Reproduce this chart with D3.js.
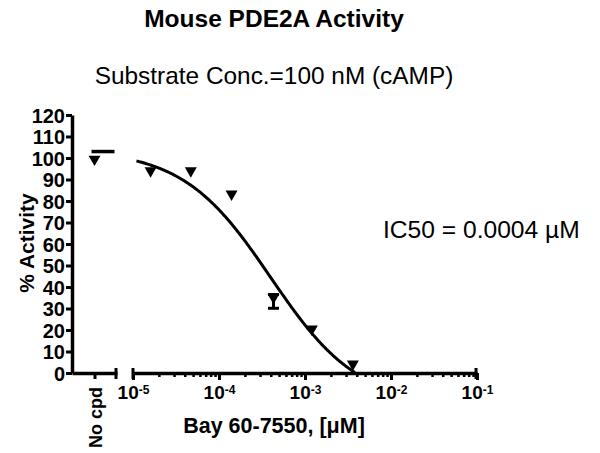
<!DOCTYPE html>
<html>
<head>
<meta charset="utf-8">
<script src="https://cdn.jsdelivr.net/npm/d3@7"></script>
<style>
  body { margin: 0; background: #fff; }
  text { font-family: Arial, 'Liberation Sans', sans-serif; fill: #000; }
</style>
</head>
<body>
<div class="chart"></div>
<script>
// data
const conc = [1.6e-5, 4.7e-5, 1.4e-4, 4.3e-4, 1.2e-3, 3.6e-3]; // uM
const activity = [93.6, 93.6, 82.8, 34.7, 20, 3.7];
const errLow = [null, null, null, 30.1, null, null];
const errHigh = [null, null, null, 36.5, null, null];
const noCpdLabel = ['No cpd'];
const noCpdValue = [99];
const noCpdHigh = [103];
const yTicks = [0, 10, 20, 30, 40, 50, 60, 70, 80, 90, 100, 110, 120];
const xMajor = [1e-5, 1e-4, 1e-3, 1e-2, 1e-1];
const xExp = ['-5', '-4', '-3', '-2', '-1'];
// 4PL fit
const fitTop = 104, fitBottom = -15, logIC50 = -3.4, hill = 0.85;

const W = 600, H = 453;
const FONT = "Arial, 'Liberation Sans', sans-serif";
const svg = d3.select('.chart')
  .append('svg')
    .attr('width', W)
    .attr('height', H);

const y = d3.scaleLinear().domain([0, 120]).range([373, 115]);
const x = d3.scaleLog().domain([1e-5, 1e-1]).range([133, 477]);
const xc = d3.scalePoint().domain(noCpdLabel).range([72, 117]).padding(0.5);

// y axis
const yAxis = svg.append('g')
  .attr('transform', 'translate(72,0)')
  .call(d3.axisLeft(y).tickValues(yTicks).tickSize(6).tickSizeOuter(0).tickPadding(1));
yAxis.select('.domain').attr('stroke-width', 3.5);
yAxis.selectAll('.tick line').attr('stroke-width', 3);
yAxis.selectAll('.tick text')
  .attr('dy', '0.36em')
  .style('font-size', '20px').style('font-weight', 'bold')
  .style('font-family', FONT);

// no cpd axis piece
const xcAxis = svg.append('g')
  .attr('transform', 'translate(0,373)')
  .call(d3.axisBottom(xc).tickSize(6).tickSizeOuter(0).tickFormat(''));
xcAxis.select('.domain').attr('stroke-width', 3.5);
xcAxis.selectAll('.tick line').attr('stroke-width', 3);
svg.append('line')
  .attr('x1', 116).attr('x2', 116).attr('y1', 368).attr('y2', 379)
  .attr('stroke', '#000').attr('stroke-width', 3);
svg.append('text')
  .attr('transform', `translate(${xc('No cpd') + 7},387) rotate(-90)`)
  .attr('text-anchor', 'end')
  .style('font-size', '18px').style('font-weight', 'bold')
  .text('No cpd');

// log axis: minor then major
const xMinor = svg.append('g')
  .attr('transform', 'translate(0,373)')
  .call(d3.axisBottom(x).tickValues(x.ticks()).tickSize(4).tickSizeOuter(0).tickFormat(''));
xMinor.select('.domain').attr('stroke-width', 3.5);
xMinor.selectAll('.tick line').attr('stroke-width', 2.5);

const xAxis = svg.append('g')
  .attr('transform', 'translate(0,373)')
  .call(d3.axisBottom(x).tickValues(xMajor).tickSize(7).tickSizeOuter(0).tickPadding(6));
xAxis.select('.domain').remove();
xAxis.selectAll('.tick line').attr('stroke-width', 3);
xAxis.selectAll('.tick text')
  .style('font-size', '19px').style('font-weight', 'bold')
  .style('font-family', FONT)
  .text(null)
  .each(function(d, i) {
    const t = d3.select(this);
    t.append('tspan').text('10');
    t.append('tspan').attr('dy', '-0.45em').style('font-size', '12px').text(xExp[i]);
  });
[133, 476].forEach(px => {
  svg.append('line')
    .attr('x1', px).attr('x2', px).attr('y1', 368).attr('y2', 379)
    .attr('stroke', '#000').attr('stroke-width', 3);
});

// fit curve
const fit = lx => fitBottom + (fitTop - fitBottom) / (1 + Math.pow(10, (lx - logIC50) * hill));
const curve = d3.range(-4.96, -2.3, 0.01)
  .map(lx => [Math.pow(10, lx), fit(lx)])
  .filter(d => d[1] >= 0);
svg.append('path')
  .datum(curve)
  .attr('fill', 'none')
  .attr('stroke', '#000')
  .attr('stroke-width', 3)
  .attr('d', d3.line().x(d => x(d[0])).y(d => y(d[1])));

// error bars
conc.forEach((c, i) => {
  if (errLow[i] == null) return;
  const cx = x(c);
  svg.append('line').attr('x1', cx).attr('x2', cx)
    .attr('y1', y(errLow[i])).attr('y2', y(errHigh[i]))
    .attr('stroke', '#000').attr('stroke-width', 3);
  [errLow[i], errHigh[i]].forEach(v => {
    svg.append('line').attr('x1', cx - 5.5).attr('x2', cx + 5.5)
      .attr('y1', y(v)).attr('y2', y(v))
      .attr('stroke', '#000').attr('stroke-width', 3);
  });
});

// markers
const tri = d3.symbol().type(d3.symbolTriangle).size(62);
svg.selectAll('.pt')
  .data(conc)
  .enter()
  .append('path')
    .attr('class', 'pt')
    .attr('d', tri)
    .attr('transform', (d, i) => `translate(${x(d)},${y(activity[i]) - 1}) rotate(180)`);

svg.append('path')
  .attr('d', tri)
  .attr('transform', `translate(${xc('No cpd')},${y(noCpdValue[0]) - 1}) rotate(180)`);
svg.append('line')
  .attr('x1', xc('No cpd') - 3).attr('x2', xc('No cpd') + 20)
  .attr('y1', y(noCpdHigh[0])).attr('y2', y(noCpdHigh[0]))
  .attr('stroke', '#000').attr('stroke-width', 3.5);

// texts
svg.append('text')
  .attr('x', 274).attr('y', 27)
  .attr('text-anchor', 'middle')
  .style('font-size', '24.5px').style('font-weight', 'bold')
  .text('Mouse PDE2A Activity');
svg.append('text')
  .attr('x', 274).attr('y', 84)
  .attr('text-anchor', 'middle')
  .style('font-size', '24.4px')
  .text('Substrate Conc.=100 nM (cAMP)');
svg.append('text')
  .attr('x', 383).attr('y', 238)
  .style('font-size', '24.6px')
  .text('IC50 = 0.0004 \u00b5M');
svg.append('text')
  .attr('transform', 'translate(34,243) rotate(-90)')
  .attr('text-anchor', 'middle')
  .style('font-size', '21px').style('font-weight', 'bold')
  .text('% Activity');
svg.append('text')
  .attr('x', 274).attr('y', 433)
  .attr('text-anchor', 'middle')
  .style('font-size', '21.5px').style('font-weight', 'bold')
  .text('Bay 60-7550, [\u03bcM]');
</script>
</body>
</html>
